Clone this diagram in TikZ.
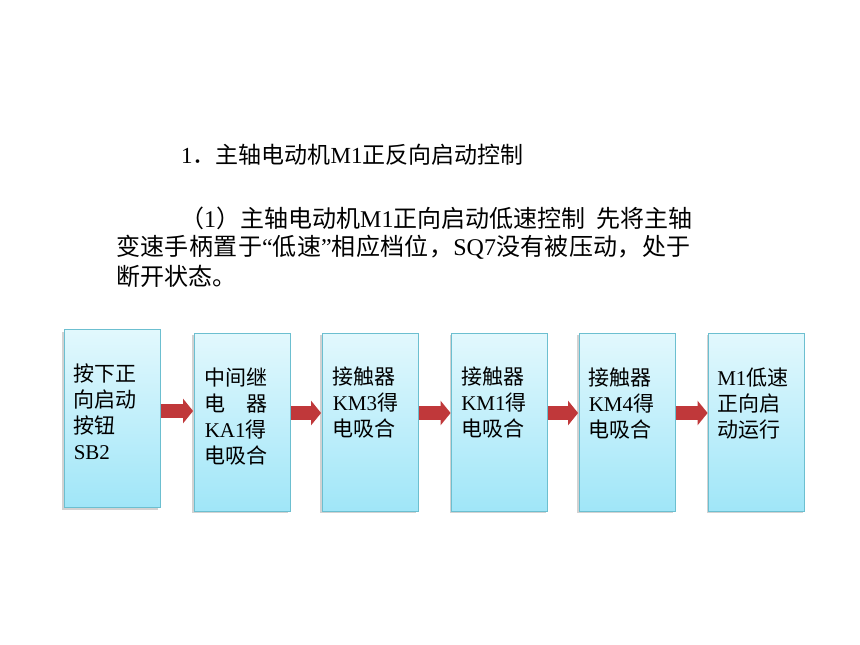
\documentclass[tikz,border=0pt]{standalone}
\usepackage{fontspec}
\setmainfont{Liberation Serif}
\newfontfamily\cjk{Noto Sans CJK SC}
\newfontfamily\cjkwide[LetterSpace=1.6]{Noto Sans CJK SC}
\usetikzlibrary{arrows.meta,shadows,calc}
\definecolor{boxtop}{HTML}{E2F8FD}
\definecolor{boxbot}{HTML}{A0E6F8}
\definecolor{boxline}{HTML}{6CBFD0}
\definecolor{arrred}{HTML}{C0383A}
\newcommand{\zh}[1]{{\cjk #1}}
\newcommand{\zhw}[1]{{\cjkwide #1}}
\tikzset{
  flowbox/.style={draw=boxline, line width=0.8pt, top color=boxtop, bottom color=boxbot,
    minimum width=96pt, minimum height=178pt, inner sep=0pt,
    drop shadow={shadow xshift=-2pt, shadow yshift=-2pt, fill=black!35, opacity=0.5}},
  boxtext/.style={anchor=north west, align=left, inner sep=0pt, font=\fontsize{21pt}{26pt}\selectfont},
  titletext/.style={anchor=west, inner sep=0pt, font=\fontsize{23pt}{28pt}\selectfont},
  bodytext/.style={anchor=west, inner sep=0pt, font=\fontsize{24pt}{29pt}\selectfont},
  flowarrow/.style={draw=arrred, line width=14pt, -{Triangle[width=24pt,length=10pt]}, shorten <=0.5pt, shorten >=0.5pt}
}
\begin{document}
\begin{tikzpicture}[x=1pt,y=-1pt]
\useasboundingbox (0,0) rectangle (860,645);
% heading and paragraph
\node[titletext] (h1) at (181,155) {1\zh{．主轴电动机}M1\zh{正反向启动控制}};
\node[bodytext] (p1) at (180,218) {\zh{（}1\zh{）主轴电动机}M1\zh{正向启动低速控制}\hspace{11pt}\zh{先将主轴}};
\node[bodytext] (p2) at (116,247) {\zhw{变速手柄置于}“\zhw{低速}”\zhw{相应档位，}SQ7\zhw{没有被压动，处于}};
\node[bodytext] (p3) at (116,276) {\zh{断开状态。}};
% boxes
\node[flowbox] (b1) at (112,418.5) {};
\node[flowbox] (b2) at (242,422) {};
\node[flowbox] (b3) at (370,422) {};
\node[flowbox] (b4) at (499.5,422) {};
\node[flowbox] (b5) at (627,422) {};
\node[flowbox] (b6) at (756.5,422) {};
% box texts
\node[boxtext] (t1) at ($(b1.north west)+(10,34)$) {\zh{按下正}\\\zh{向启动}\\\zh{按钮}\\SB2};
\node[boxtext] (t2) at ($(b2.north west)+(11,35)$) {\zh{中间继}\\\zh{电　器}\\KA1\zh{得}\\\zh{电吸合}};
\node[boxtext] (t3) at ($(b3.north west)+(11,34)$) {\zh{接触器}\\KM3\zh{得}\\\zh{电吸合}};
\node[boxtext] (t4) at ($(b4.north west)+(10,34)$) {\zh{接触器}\\KM1\zh{得}\\\zh{电吸合}};
\node[boxtext] (t5) at ($(b5.north west)+(10,35)$) {\zh{接触器}\\KM4\zh{得}\\\zh{电吸合}};
\node[boxtext] (t6) at ($(b6.north west)+(9,35)$) {M1\zh{低速}\\\zh{正向启}\\\zh{动运行}};
% arrows
\draw[flowarrow] (b1.east |- 0,411) -- (b2.west |- 0,411);
\draw[flowarrow] (b2.east |- 0,413) -- (b3.west |- 0,413);
\draw[flowarrow] (b3.east |- 0,413) -- (b4.west |- 0,413);
\draw[flowarrow] (b4.east |- 0,413) -- (b5.west |- 0,413);
\draw[flowarrow] (b5.east |- 0,413) -- (b6.west |- 0,413);
\end{tikzpicture}
\end{document}
